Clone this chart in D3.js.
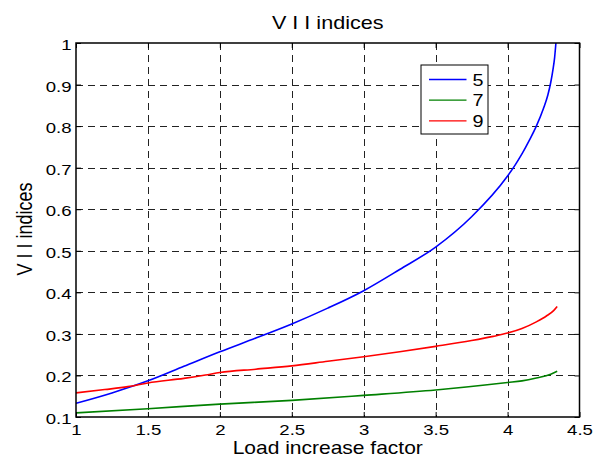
<!DOCTYPE html>
<html>
<head>
<meta charset="utf-8">
<script src="https://cdn.jsdelivr.net/npm/d3@7"></script>
<style>
  html, body { margin: 0; padding: 0; background: #fff; }
  svg { display: block; font-family: "Liberation Sans", Arial, sans-serif; }
</style>
</head>
<body>
<svg id="chart" width="604" height="458"></svg>
<script>
// Load increase factor samples and VII index values per harmonic order
const load5 = [1.0, 1.25, 1.5, 1.75, 2.0, 2.25, 2.5, 2.75, 3.0, 3.25, 3.5, 3.75, 4.0, 4.05, 4.1, 4.15, 4.2, 4.25, 4.28, 4.3, 4.315, 4.327, 4.336];
const vii5  = [0.133, 0.158, 0.187, 0.222, 0.257, 0.290, 0.324, 0.362, 0.404, 0.455, 0.509, 0.582, 0.680, 0.705, 0.733, 0.765, 0.800, 0.843, 0.875, 0.905, 0.935, 0.965, 1.0];

const load7 = [1.0, 1.5, 2.0, 2.5, 3.0, 3.5, 4.0, 4.1, 4.2, 4.3, 4.345];
const vii7  = [0.110, 0.120, 0.131, 0.140, 0.152, 0.165, 0.183, 0.187, 0.194, 0.203, 0.210];

const load9 = [1.0, 1.2, 1.36, 1.5, 1.75, 1.9, 2.0, 2.25, 2.5, 2.75, 3.0, 3.25, 3.5, 3.75, 3.9, 4.0, 4.1, 4.2, 4.27, 4.32, 4.345];
const vii9  = [0.158, 0.166, 0.173, 0.182, 0.193, 0.201, 0.207, 0.215, 0.223, 0.234, 0.245, 0.257, 0.270, 0.284, 0.294, 0.302, 0.313, 0.329, 0.343, 0.356, 0.366];

const seriesNames  = ["5", "7", "9"];
const seriesColors = ["#0000ff", "#008000", "#ff0000"];

const xTicks = [1, 1.5, 2, 2.5, 3, 3.5, 4, 4.5];
const yTicks = [0.1, 0.2, 0.3, 0.4, 0.5, 0.6, 0.7, 0.8, 0.9, 1];

const titleText  = "V I I indices";
const xLabelText = "Load increase factor";
const yLabelText = "V I I indices";

const W = 604, H = 458;
const margin = { top: 43, right: 24.5, bottom: 41, left: 76 };
const iw = W - margin.left - margin.right;
const ih = H - margin.top - margin.bottom;
const SX = 1.2; // horizontal widening applied to all glyphs

const svg = d3.select("#chart");
const g = svg.append("g").attr("transform", `translate(${margin.left},${margin.top})`);

const x = d3.scaleLinear().domain([1, 4.5]).range([0, iw]);
const y = d3.scaleLinear().domain([0.1, 1]).range([ih, 0]);

// dashed grid
const gridStyle = sel => sel.attr("stroke", "#222").attr("stroke-width", 1).attr("stroke-dasharray", "7,5").attr("shape-rendering", "crispEdges");
g.append("g").selectAll("line").data(xTicks.slice(1, -1)).join("line")
  .attr("x1", d => Math.round(x(d)) + 0.5).attr("x2", d => Math.round(x(d)) + 0.5)
  .attr("y1", 0).attr("y2", ih).call(gridStyle);
g.append("g").selectAll("line").data(yTicks.slice(1, -1)).join("line")
  .attr("y1", d => Math.round(y(d)) + 0.5).attr("y2", d => Math.round(y(d)) + 0.5)
  .attr("x1", 0).attr("x2", iw).call(gridStyle);

// series
const lineGen = d3.line().x(d => x(d[0])).y(d => y(d[1])).curve(d3.curveMonotoneX);
const series = [
  d3.zip(load5, vii5),
  d3.zip(load7, vii7),
  d3.zip(load9, vii9)
];
g.append("defs").append("clipPath").attr("id", "plotClip")
  .append("rect").attr("x", 0).attr("y", -1).attr("width", iw).attr("height", ih + 1);
g.append("g").attr("clip-path", "url(#plotClip)")
  .selectAll("path").data(series).join("path")
  .attr("d", lineGen)
  .attr("fill", "none")
  .attr("stroke", (d, i) => seriesColors[i])
  .attr("stroke-width", 1.6);

// axes with inward ticks on all four sides
const styleAxis = sel => {
  sel.select(".domain").remove();
  sel.selectAll(".tick line").attr("stroke", "#000").attr("stroke-width", 1);
  sel.selectAll(".tick text").attr("font-size", 15.5).attr("fill", "#000")
    .attr("font-family", "Liberation Sans, Arial, sans-serif");
};
const xAxis = g.append("g").attr("transform", `translate(0,${ih})`)
  .call(d3.axisBottom(x).tickValues(xTicks).tickFormat(d3.format("")).tickSizeInner(-5).tickSizeOuter(0));
xAxis.call(styleAxis);
xAxis.selectAll(".tick text").attr("y", 18.5).attr("dy", null)
  .attr("transform", `scale(${SX},1)`);
g.append("g")
  .call(d3.axisTop(x).tickValues(xTicks).tickFormat("").tickSizeInner(-5).tickSizeOuter(0))
  .call(styleAxis);
const yAxis = g.append("g")
  .call(d3.axisLeft(y).tickValues(yTicks).tickFormat(d3.format("")).tickSizeInner(-5).tickSizeOuter(0));
yAxis.call(styleAxis);
yAxis.selectAll(".tick text").attr("x", -4.5 / SX).attr("dy", "0.42em")
  .attr("transform", `scale(${SX},1)`);
g.append("g").attr("transform", `translate(${iw},0)`)
  .call(d3.axisRight(y).tickValues(yTicks).tickFormat("").tickSizeInner(-5).tickSizeOuter(0))
  .call(styleAxis);

// box
g.append("rect").attr("x", 0).attr("y", 0).attr("width", iw).attr("height", ih)
  .attr("fill", "none").attr("stroke", "#000").attr("stroke-width", 1.5);

// title and axis labels
svg.append("text").attr("transform", `translate(${margin.left + iw / 2},29) scale(${SX},1)`)
  .attr("text-anchor", "middle").attr("font-size", 18).text(titleText);
svg.append("text").attr("transform", `translate(${margin.left + iw / 2},454) scale(${SX},1)`)
  .attr("text-anchor", "middle").attr("font-size", 17.5).text(xLabelText);
svg.append("text").attr("transform", `translate(31.5,229) scale(${SX},1) rotate(-90)`)
  .attr("text-anchor", "middle").attr("font-size", 18).text(yLabelText);

// legend
const lg = svg.append("g").attr("transform", "translate(421,65)");
lg.append("rect").attr("width", 67).attr("height", 69)
  .attr("fill", "#fff").attr("stroke", "#000").attr("stroke-width", 1);
seriesNames.forEach((name, i) => {
  const cy = 14.5 + i * 20.7;
  lg.append("line").attr("x1", 8).attr("x2", 45.5).attr("y1", cy).attr("y2", cy)
    .attr("stroke", seriesColors[i]).attr("stroke-width", 1.3);
  lg.append("text").attr("transform", `translate(51.5,${cy + 6}) scale(${SX},1)`)
    .attr("font-size", 16.5).text(name);
});
</script>
</body>
</html>
